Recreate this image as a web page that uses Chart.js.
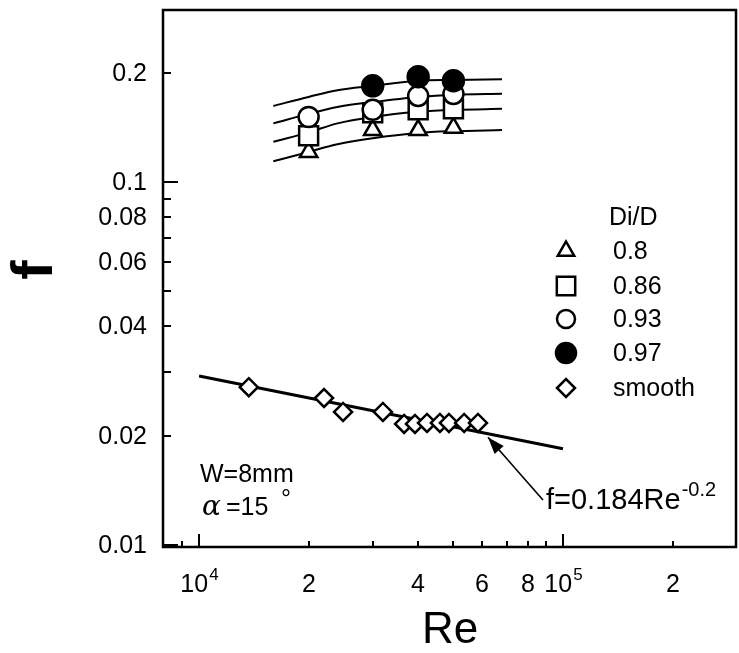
<!DOCTYPE html>
<html><head><meta charset="utf-8">
<script src="https://cdn.jsdelivr.net/npm/chart.js@4/dist/chart.umd.min.js"></script>
<style>html,body{margin:0;padding:0;background:#fff}#wrap{width:739px;height:653px}</style>
</head><body><div id="wrap"><canvas id="c" width="739" height="653"></canvas></div>
<script>
// ---------- data ----------
const reMarks = [20000, 30000, 40000, 50000];
const f080 = [0.121, 0.139, 0.139, 0.141];
const f086 = [0.134, 0.155, 0.158, 0.159];
const f093 = [0.151, 0.158, 0.1726, 0.1748];
const reMarks097 = [30000, 40000, 50000];
const f097 = [0.184, 0.195, 0.190];

const reCurve = [16000, 20000, 24000, 30000, 40000, 50000, 68000];
const curve080 = [0.114, 0.121, 0.127, 0.132, 0.1365, 0.138, 0.139];
const curve086 = [0.129, 0.137, 0.145, 0.151, 0.156, 0.158, 0.159];
const curve093 = [0.145, 0.154, 0.161, 0.166, 0.1715, 0.174, 0.175];
const curve097 = [0.162, 0.1715, 0.179, 0.184, 0.190, 0.191, 0.192];

const reSmooth = [13700, 22050, 24870, 32000, 36600, 39200, 42300, 45900, 48600, 53500, 58400];
const fSmooth = [0.0272, 0.0254, 0.02325, 0.02325, 0.02154, 0.02154, 0.02168, 0.02168, 0.02168, 0.02168, 0.02168];

const reFit = [10000, 100000];
const fFit = [0.0292, 0.0184];

const xTickValues = [9000, 10000, 20000, 30000, 40000, 50000, 60000, 70000, 80000, 90000, 100000, 200000];
const xTickLabels = ['', '10|4', '2', '', '4', '', '6', '', '8', '', '10|5', '2'];
const xMajor = [10000, 100000];
const yTickValues = [0.01, 0.02, 0.03, 0.04, 0.05, 0.06, 0.07, 0.08, 0.09, 0.1, 0.2];
const yTickLabels = ['0.01', '0.02', '', '0.04', '', '0.06', '', '0.08', '', '0.1', '0.2'];
const yMajor = [0.01, 0.1];

const legendTitle = 'Di/D';
const legendLabels = ['0.8', '0.86', '0.93', '0.97', 'smooth'];

// ---------- helpers ----------
const FONT = '"Liberation Sans", Arial, Helvetica, sans-serif';
const pts = (xs, ys) => xs.map((x, i) => ({x: x, y: ys[i]}));
const curveDs = (ys) => ({data: pts(reCurve, ys), showLine: true, borderColor: '#000', borderWidth: 2,
  pointRadius: 0, cubicInterpolationMode: 'monotone', fill: false, order: 10});
const markDs = (xs, ys, style, r, fillColor, order) => ({data: pts(xs, ys), showLine: false,
  pointStyle: style, pointRadius: r, pointHoverRadius: r, pointBackgroundColor: fillColor,
  pointBorderColor: '#000', pointBorderWidth: 2.5, order: order});

function drawMarker(ctx, style, x, y, r, filled) {
  ctx.beginPath();
  if (style === 'circle') ctx.arc(x, y, r, 0, Math.PI * 2);
  else if (style === 'rect') { const s = r * Math.SQRT1_2; ctx.rect(x - s, y - s, 2 * s, 2 * s); }
  else if (style === 'triangle') { ctx.moveTo(x, y - r); ctx.lineTo(x + r * 0.866, y + r * 0.5); ctx.lineTo(x - r * 0.866, y + r * 0.5); ctx.closePath(); }
  else if (style === 'rectRot') { ctx.moveTo(x - r, y); ctx.lineTo(x, y - r); ctx.lineTo(x + r, y); ctx.lineTo(x, y + r); ctx.closePath(); }
  ctx.fillStyle = filled ? '#000' : '#fff';
  ctx.fill();
  ctx.lineWidth = 2.5; ctx.strokeStyle = '#000'; ctx.stroke();
}

function drawSupText(ctx, base, sup, x, baseline, size, supSize, rise, align) {
  ctx.font = size + 'px ' + FONT;
  const wb = ctx.measureText(base).width;
  ctx.font = supSize + 'px ' + FONT;
  const ws = ctx.measureText(sup).width;
  let x0 = x;
  if (align === 'center') x0 = x - (wb + ws) / 2;
  ctx.textAlign = 'left'; ctx.textBaseline = 'alphabetic';
  ctx.font = size + 'px ' + FONT;
  ctx.fillText(base, x0, baseline);
  ctx.font = supSize + 'px ' + FONT;
  ctx.fillText(sup, x0 + wb + 1, baseline - rise);
}

const decor = {
  id: 'decor',
  afterDraw(chart) {
    const ctx = chart.ctx, a = chart.chartArea;
    const xs = chart.scales.x, ys = chart.scales.y;
    ctx.save();
    ctx.fillStyle = '#000'; ctx.strokeStyle = '#000';
    // frame
    ctx.lineWidth = 2.5;
    ctx.strokeRect(a.left, a.top, a.right - a.left, a.bottom - a.top);
    // x ticks (inside, from bottom)
    ctx.lineWidth = 2;
    xTickValues.forEach((v, i) => {
      const px = Math.round(xs.getPixelForValue(v));
      const len = xMajor.includes(v) ? 13 : 6;
      ctx.beginPath(); ctx.moveTo(px, a.bottom); ctx.lineTo(px, a.bottom - len); ctx.stroke();
      const lab = xTickLabels[i];
      if (lab) {
        if (lab.indexOf('|') >= 0) {
          const p = lab.split('|');
          drawSupText(ctx, p[0], p[1], px, 592, 25, 17, 12, 'center');
        } else {
          ctx.font = '25px ' + FONT; ctx.textAlign = 'center'; ctx.textBaseline = 'alphabetic';
          ctx.fillText(lab, px, 592);
        }
      }
    });
    // y ticks (inside, from left)
    yTickValues.forEach((v, i) => {
      const py = Math.round(ys.getPixelForValue(v));
      const len = yMajor.includes(v) ? 15 : 8;
      ctx.beginPath(); ctx.moveTo(a.left, py); ctx.lineTo(a.left + len, py); ctx.stroke();
      const lab = yTickLabels[i];
      if (lab) {
        ctx.font = '25px ' + FONT; ctx.textAlign = 'right'; ctx.textBaseline = 'middle';
        ctx.fillText(lab, 147, py + 1);
      }
    });
    // axis titles
    ctx.font = '44px ' + FONT; ctx.textAlign = 'center'; ctx.textBaseline = 'alphabetic';
    ctx.fillText('Re', 450, 643);
    ctx.save();
    ctx.translate(36, 270); ctx.rotate(-Math.PI / 2);
    ctx.font = 'bold 58px ' + FONT; ctx.textAlign = 'center'; ctx.textBaseline = 'middle';
    ctx.fillText('f', 0, 0);
    ctx.restore();
    // legend
    ctx.font = '25px ' + FONT; ctx.textAlign = 'left'; ctx.textBaseline = 'middle';
    ctx.fillText(legendTitle, 609, 218);
    const lStyles = [['triangle', 9.5, false], ['rect', 13, false], ['circle', 9, false], ['circle', 10, true], ['rectRot', 9, false]];
    const lY = [251, 286, 319, 353, 388];
    legendLabels.forEach((t, i) => {
      drawMarker(ctx, lStyles[i][0], 566, lY[i], lStyles[i][1], lStyles[i][2]);
      ctx.fillStyle = '#000';
      ctx.font = '25px ' + FONT; ctx.textAlign = 'left'; ctx.textBaseline = 'middle';
      ctx.fillText(t, 613, lY[i] + 1);
    });
    // condition notes
    ctx.font = '25px ' + FONT; ctx.textAlign = 'left'; ctx.textBaseline = 'alphabetic';
    ctx.fillText('W=8mm', 200, 482);
    ctx.font = 'italic 28px "DejaVu Serif", serif';
    ctx.fillText('\u03b1', 202, 515);
    ctx.font = '25px ' + FONT;
    ctx.fillText('=15', 226, 515);
    ctx.fillText('\u00b0', 281, 507);
    // fit annotation
    drawSupText(ctx, 'f=0.184Re', '-0.2', 546, 509, 29, 20, 13, 'left');
    // arrow
    const tx = xs.getPixelForValue(62200), ty = ys.getPixelForValue(0.0198);
    const sx = xs.getPixelForValue(88100), sy = ys.getPixelForValue(0.0133);
    ctx.lineWidth = 1.6;
    ctx.beginPath(); ctx.moveTo(sx, sy); ctx.lineTo(tx, ty); ctx.stroke();
    const ang = Math.atan2(ty - sy, tx - sx), L = 17, W = 6;
    const bx = tx - L * Math.cos(ang), by = ty - L * Math.sin(ang);
    ctx.beginPath();
    ctx.moveTo(tx, ty);
    ctx.lineTo(bx + W * Math.sin(ang), by - W * Math.cos(ang));
    ctx.lineTo(bx - W * Math.sin(ang), by + W * Math.cos(ang));
    ctx.closePath(); ctx.fill();
    ctx.restore();
  }
};

new Chart(document.getElementById('c'), {
  type: 'scatter',
  data: {
    datasets: [
      curveDs(curve080), curveDs(curve086), curveDs(curve093), curveDs(curve097),
      {data: pts(reFit, fFit), showLine: true, borderColor: '#000', borderWidth: 3, pointRadius: 0, fill: false, order: 10},
      markDs(reMarks, f080, 'triangle', 10, '#fff', 4),
      markDs(reMarks, f086, 'rect', 13.4, '#fff', 3),
      markDs(reMarks, f093, 'circle', 10, '#fff', 2),
      markDs(reMarks097, f097, 'circle', 10.5, '#000', 1),
      markDs(reSmooth, fSmooth, 'rectRot', 9, '#fff', 1)
    ]
  },
  options: {
    responsive: false, animation: false, devicePixelRatio: 1,
    layout: {autoPadding: false, padding: {left: 163, top: 10, right: 3, bottom: 106}},
    plugins: {legend: {display: false}, tooltip: {enabled: false}},
    scales: {
      x: {type: 'logarithmic', min: 7960, max: 298800, display: false},
      y: {type: 'logarithmic', min: 0.00987, max: 0.2977, display: false}
    }
  },
  plugins: [decor]
});
</script>
</body></html>
